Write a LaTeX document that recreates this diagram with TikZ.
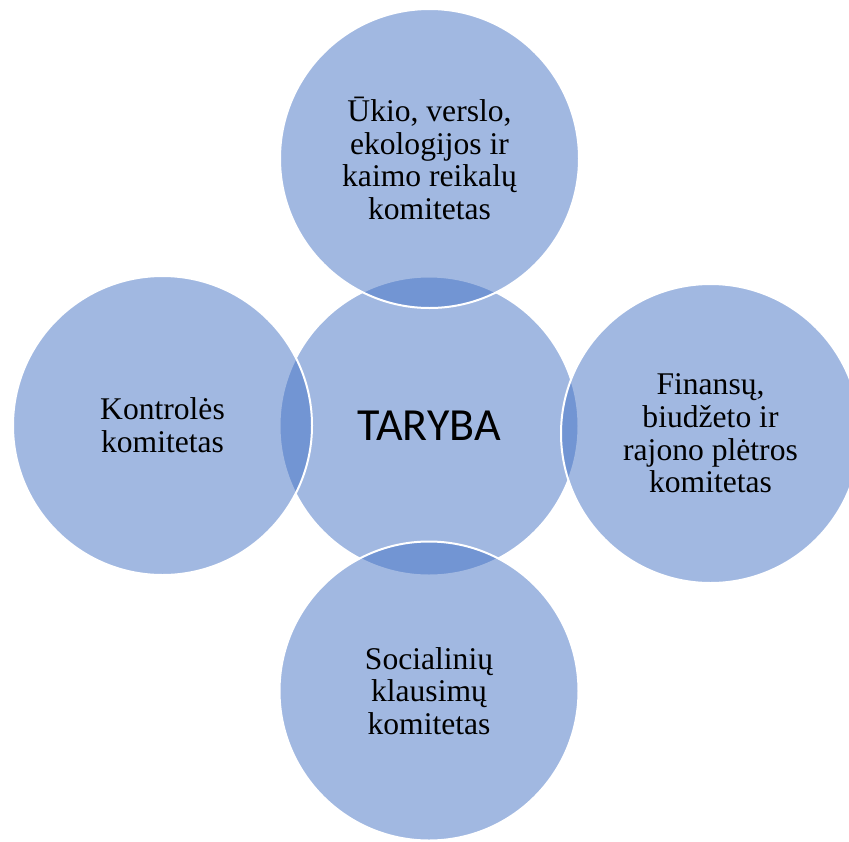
\documentclass[tikz,border=0pt]{standalone}
\usepackage{fontspec}
\setmainfont{Liberation Serif}
\newfontfamily\calib{Carlito}
\definecolor{accentblue}{RGB}{68,114,196}
\begin{document}
\begin{tikzpicture}[x=1pt,y=-1pt,
  bubble/.style={circle, minimum size=299pt, inner sep=0pt, fill=accentblue,
    fill opacity=0.5, text opacity=1, draw=white, line width=2pt,
    align=center, font=\fontsize{31.6}{32.7}\selectfont},
  hub/.style={bubble, font=\calib\fontsize{46}{50}\selectfont}]
\useasboundingbox (0,0) rectangle (849,841);
\node[hub] (c) at (429,426) {TARYBA};
\node[bubble] (t) at (429.5,158.5) {Ūkio, verslo,\\ekologijos ir\\kaimo reikalų\\komitetas};
\node[bubble] (l) at (162.5,425.5) {Kontrolės\\komitetas};
\node[bubble] (r) at (710.5,433.5) {Finansų,\\biudžeto ir\\rajono plėtros\\komitetas};
\node[bubble] (b) at (429,691) {Socialinių\\klausimų\\komitetas};
\end{tikzpicture}
\end{document}
